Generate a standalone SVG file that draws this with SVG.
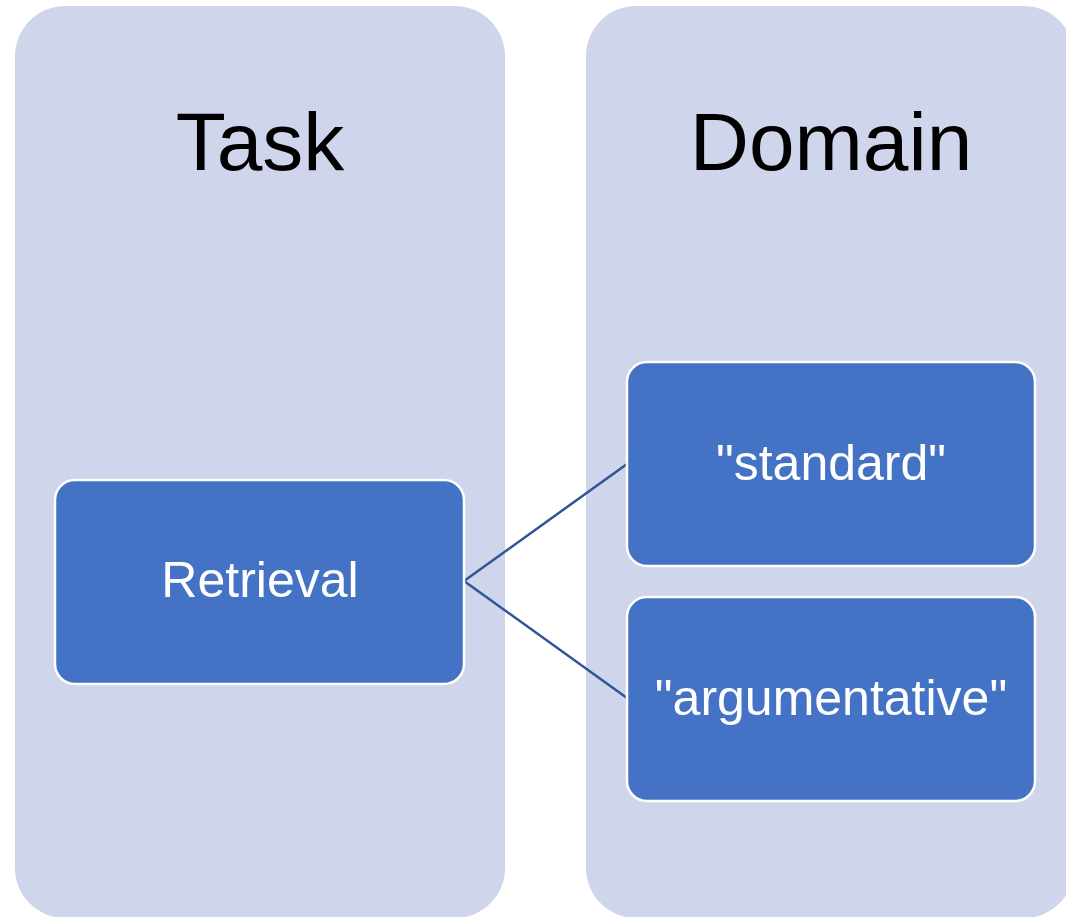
<svg xmlns="http://www.w3.org/2000/svg" width="1066" height="917" viewBox="0 0 1066 917">
  <style>
    .col { fill: #CFD5EA; }
    .box { fill: #4472C4; stroke: #FFFFFF; stroke-width: 2.5; }
    .head { font-family: "Liberation Sans", Arial, sans-serif; font-size: 82px; fill: #000000; text-anchor: middle; }
    .label { font-family: "Liberation Sans", Arial, sans-serif; font-size: 50px; fill: #FFFFFF; text-anchor: middle; }
    .link { stroke: #2F5597; stroke-width: 2.5; fill: none; }
  </style>
  <rect width="1066" height="917" fill="#FFFFFF"/>

  <g id="task-column">
    <rect class="col" x="15" y="6" width="490" height="912" rx="50" ry="50"/>
    <text class="head" x="260" y="170">Task</text>
  </g>

  <g id="domain-column">
    <rect class="col" x="586" y="6" width="488" height="912" rx="50" ry="50"/>
    <text class="head" x="831" y="170">Domain</text>
  </g>

  <g id="connectors">
    <line class="link" x1="464" y1="581" x2="627" y2="464"/>
    <line class="link" x1="464" y1="581" x2="627" y2="698"/>
  </g>

  <g id="retrieval">
    <rect class="box" x="55" y="480" width="409" height="204" rx="20" ry="20"/>
    <text class="label" x="260" y="597">Retrieval</text>
  </g>

  <g id="standard">
    <rect class="box" x="627" y="362" width="408" height="204" rx="20" ry="20"/>
    <text class="label" x="831" y="480">"standard"</text>
  </g>

  <g id="argumentative">
    <rect class="box" x="627" y="597" width="408" height="204" rx="20" ry="20"/>
    <text class="label" x="831" y="715">"argumentative"</text>
  </g>
</svg>
